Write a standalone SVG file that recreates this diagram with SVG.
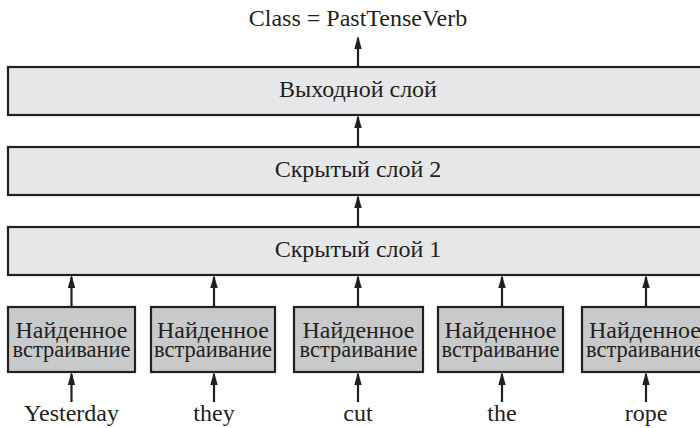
<svg xmlns="http://www.w3.org/2000/svg" width="700" height="428" viewBox="0 0 700 428">
  <style>
    text { font-family: 'Liberation Serif', 'Times New Roman', serif; font-size: 24px; fill: #231f20; text-anchor: middle; }
    .layer { fill: #e6e7e8; stroke: #231f20; stroke-width: 2.2; }
    .emb { fill: #c8c9cb; stroke: #231f20; stroke-width: 2.2; }
    .conn { stroke: #231f20; stroke-width: 2.2; fill: none; marker-end: url(#arrow); }
  </style>
  <defs>
    <marker id="arrow" markerWidth="13" markerHeight="7.5" refX="11" refY="3.75" orient="auto" markerUnits="userSpaceOnUse" viewBox="0 0 13 7.5">
      <path d="M0,0 L13,3.75 L0,7.5 Z" fill="#231f20"/>
    </marker>
  </defs>

  <text x="358" y="26">Class = PastTenseVerb</text>

  <g id="output-layer">
    <rect class="layer" x="8" y="67" width="700" height="48"/>
    <text x="358" y="97">Выходной слой</text>
  </g>
  <g id="hidden-layer-2">
    <rect class="layer" x="8" y="147" width="700" height="48"/>
    <text x="358" y="177">Скрытый слой 2</text>
  </g>
  <g id="hidden-layer-1">
    <rect class="layer" x="8" y="227" width="700" height="48"/>
    <text x="358" y="257">Скрытый слой 1</text>
  </g>

  <g id="emb-1">
    <rect class="emb" x="8" y="307" width="127" height="65"/>
    <text x="71.5" y="338" textLength="112" lengthAdjust="spacingAndGlyphs">Найденное</text>
    <text x="71.5" y="357" textLength="118" lengthAdjust="spacingAndGlyphs">встраивание</text>
  </g>
  <g id="emb-2">
    <rect class="emb" x="151" y="307" width="124" height="65"/>
    <text x="213" y="338" textLength="112" lengthAdjust="spacingAndGlyphs">Найденное</text>
    <text x="213" y="357" textLength="118" lengthAdjust="spacingAndGlyphs">встраивание</text>
  </g>
  <g id="emb-3">
    <rect class="emb" x="294" y="307" width="129" height="65"/>
    <text x="358.5" y="338" textLength="112" lengthAdjust="spacingAndGlyphs">Найденное</text>
    <text x="358.5" y="357" textLength="118" lengthAdjust="spacingAndGlyphs">встраивание</text>
  </g>
  <g id="emb-4">
    <rect class="emb" x="438" y="307" width="125" height="65"/>
    <text x="500.5" y="338" textLength="112" lengthAdjust="spacingAndGlyphs">Найденное</text>
    <text x="500.5" y="357" textLength="118" lengthAdjust="spacingAndGlyphs">встраивание</text>
  </g>
  <g id="emb-5">
    <rect class="emb" x="582" y="307" width="130" height="65"/>
    <text x="645" y="338" textLength="112" lengthAdjust="spacingAndGlyphs">Найденное</text>
    <text x="645" y="357" textLength="118" lengthAdjust="spacingAndGlyphs">встраивание</text>
  </g>

  <g id="words">
    <text x="71.5" y="421">Yesterday</text>
    <text x="214" y="421">they</text>
    <text x="358" y="421">cut</text>
    <text x="502" y="421">the</text>
    <text x="646" y="421">rope</text>
  </g>

  <g id="connectors">
    <line class="conn" x1="358" y1="67" x2="358" y2="38"/>
    <line class="conn" x1="358" y1="147" x2="358" y2="117"/>
    <line class="conn" x1="358" y1="227" x2="358" y2="197"/>
    <line class="conn" x1="71.5" y1="307" x2="71.5" y2="277"/>
    <line class="conn" x1="214" y1="307" x2="214" y2="277"/>
    <line class="conn" x1="358" y1="307" x2="358" y2="277"/>
    <line class="conn" x1="502" y1="307" x2="502" y2="277"/>
    <line class="conn" x1="646" y1="307" x2="646" y2="277"/>
    <line class="conn" x1="71.5" y1="402" x2="71.5" y2="374"/>
    <line class="conn" x1="214" y1="402" x2="214" y2="374"/>
    <line class="conn" x1="358" y1="402" x2="358" y2="374"/>
    <line class="conn" x1="502" y1="402" x2="502" y2="374"/>
    <line class="conn" x1="646" y1="402" x2="646" y2="374"/>
  </g>
</svg>
